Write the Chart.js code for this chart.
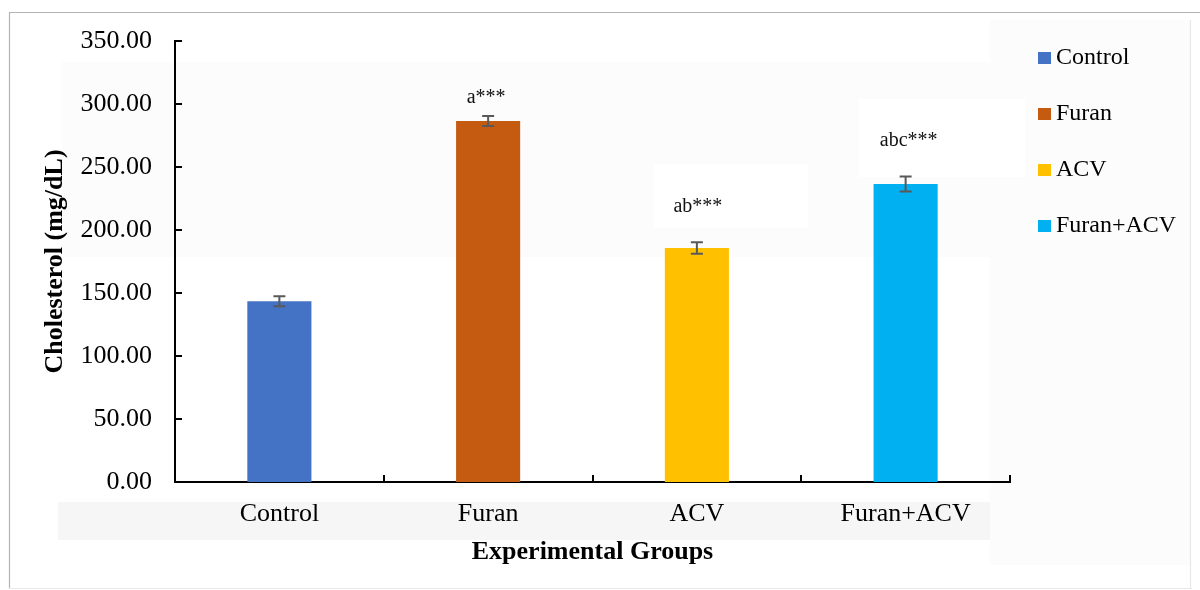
<!DOCTYPE html>
<html>
<head>
<meta charset="utf-8">
<script src="https://cdn.jsdelivr.net/npm/chart.js@4.4.1/dist/chart.umd.min.js"></script>
<style>
  html, body { margin: 0; padding: 0; background: #ffffff; }
  #wrap { width: 1200px; height: 590px; position: relative; }
</style>
</head>
<body>
<div id="wrap"><canvas id="chart" width="1200" height="590"></canvas></div>
<script>
// Serum cholesterol by experimental group (mean ± SE)
const groups = ['Control', 'Furan', 'ACV', 'Furan+ACV'];
const cholesterol = [143.5, 286.5, 185.7, 236.5];
const errors = [4.0, 4.0, 4.6, 6.0];
const sigLabels = ['', 'a***', 'ab***', 'abc***'];
const barColors = ['#4472C4', '#C55A11', '#FFC000', '#00B0F0'];
const yTicks = [0, 50, 100, 150, 200, 250, 300, 350];

const SERIF = '"Liberation Serif", "Times New Roman", serif';

// Page backdrop: white sheet with a thin frame and faint shaded panels
const backdrop = {
  id: 'backdrop',
  beforeDraw(chart) {
    const ctx = chart.ctx;
    ctx.save();
    ctx.fillStyle = '#ffffff';
    ctx.fillRect(0, 0, chart.width, chart.height);
    ctx.fillStyle = '#fcfcfc';
    ctx.fillRect(62, 62, 928, 195);
    ctx.fillRect(990, 20, 200, 545);
    ctx.fillStyle = '#f6f6f6';
    ctx.fillRect(58, 502, 932, 38);
    ctx.fillStyle = '#ffffff';
    ctx.fillRect(654, 164, 154, 64);
    ctx.fillRect(859, 99, 166, 78);
    ctx.strokeStyle = '#b4b4b4';
    ctx.lineWidth = 1.2;
    ctx.beginPath();
    ctx.moveTo(9.5, 588);
    ctx.lineTo(9.5, 12.5);
    ctx.lineTo(1200, 12.5);
    ctx.stroke();
    ctx.strokeStyle = '#e8e8e8';
    ctx.beginPath();
    ctx.moveTo(9, 588.5);
    ctx.lineTo(1192, 588.5);
    ctx.moveTo(1190.5, 20);
    ctx.lineTo(1190.5, 588);
    ctx.stroke();
    ctx.restore();
  }
};

// Short tick marks drawn on the inner side of both axes
const innerTicks = {
  id: 'innerTicks',
  afterDatasetsDraw(chart) {
    const ctx = chart.ctx;
    const x = chart.scales.x, y = chart.scales.y;
    const ca = chart.chartArea;
    ctx.save();
    ctx.strokeStyle = '#000000';
    ctx.lineWidth = 2;
    ctx.beginPath();
    yTicks.forEach(v => {
      const py = Math.round(y.getPixelForValue(v));
      ctx.moveTo(ca.left, py);
      ctx.lineTo(ca.left + 7, py);
    });
    for (let i = 0; i <= groups.length; i++) {
      const px = Math.round(x.getPixelForValue(i - 0.5));
      ctx.moveTo(px, ca.bottom);
      ctx.lineTo(px, ca.bottom - 7);
    }
    ctx.stroke();
    ctx.restore();
  }
};

// Error bars and significance letters above each bar
const errorBars = {
  id: 'errorBars',
  afterDatasetsDraw(chart, args, opts) {
    const ctx = chart.ctx;
    const y = chart.scales.y;
    const meta = chart.getDatasetMeta(0);
    ctx.save();
    meta.data.forEach((bar, i) => {
      const cx = bar.x;
      const hi = y.getPixelForValue(cholesterol[i] + errors[i]);
      const lo = y.getPixelForValue(cholesterol[i] - errors[i]);
      ctx.strokeStyle = '#595959';
      ctx.lineWidth = 2;
      ctx.beginPath();
      ctx.moveTo(cx, hi); ctx.lineTo(cx, lo);
      ctx.moveTo(cx - 6, hi); ctx.lineTo(cx + 6, hi);
      ctx.moveTo(cx - 6, lo); ctx.lineTo(cx + 6, lo);
      ctx.stroke();
      if (sigLabels[i]) {
        const top = y.getPixelForValue(cholesterol[i]);
        ctx.fillStyle = '#111111';
        ctx.font = '20px ' + SERIF;
        ctx.textAlign = 'center';
        ctx.textBaseline = 'alphabetic';
        ctx.fillText(sigLabels[i], cx + opts.dx[i], top - opts.lift[i]);
      }
    });
    ctx.restore();
  }
};

// Category legend at the right of the plot
const sideLegend = {
  id: 'sideLegend',
  afterDraw(chart) {
    const ctx = chart.ctx;
    const ca = chart.chartArea;
    const x0 = ca.right + 28;
    ctx.save();
    ctx.font = '24px ' + SERIF;
    ctx.textAlign = 'left';
    ctx.textBaseline = 'middle';
    groups.forEach((g, i) => {
      const cy = ca.top + 17 + i * 56;
      ctx.fillStyle = barColors[i];
      ctx.fillRect(x0, cy - 6, 13, 12);
      ctx.fillStyle = '#000000';
      ctx.fillText(g, x0 + 18, cy);
    });
    ctx.restore();
  }
};

new Chart(document.getElementById('chart'), {
  type: 'bar',
  data: {
    labels: groups,
    datasets: [{
      label: 'Cholesterol',
      data: cholesterol,
      backgroundColor: barColors,
      borderWidth: 0,
      categoryPercentage: 1.0,
      barPercentage: 0.307
    }]
  },
  options: {
    responsive: false,
    animation: false,
    devicePixelRatio: 1,
    layout: { padding: { left: 40, top: 41, right: 190, bottom: 22 } },
    plugins: {
      legend: { display: false },
      tooltip: { enabled: false },
      errorBars: { dx: [0, -2, 1, 3], lift: [0, 18, 36, 38] }
    },
    scales: {
      x: {
        grid: { display: false, drawTicks: false },
        border: { display: true, color: '#000000', width: 2 },
        ticks: { color: '#000000', font: { family: SERIF, size: 26 }, padding: 17 },
        title: {
          display: true, text: 'Experimental Groups', color: '#000000',
          font: { family: SERIF, size: 26, weight: 'bold' }, padding: 0
        },
        afterFit(scale) { scale.height = 86; }
      },
      y: {
        min: 0, max: 350,
        grid: { display: false, drawTicks: false },
        border: { display: true, color: '#000000', width: 2 },
        ticks: {
          stepSize: 50, color: '#000000', padding: 23,
          font: { family: SERIF, size: 26 },
          callback: v => Number(v).toFixed(2)
        },
        title: {
          display: true, text: 'Cholesterol (mg/dL)', color: '#000000',
          font: { family: SERIF, size: 26, weight: 'bold' }, padding: 0
        },
        afterFit(scale) { scale.width = 135; }
      }
    }
  },
  plugins: [backdrop, innerTicks, errorBars, sideLegend]
});
</script>
</body>
</html>
